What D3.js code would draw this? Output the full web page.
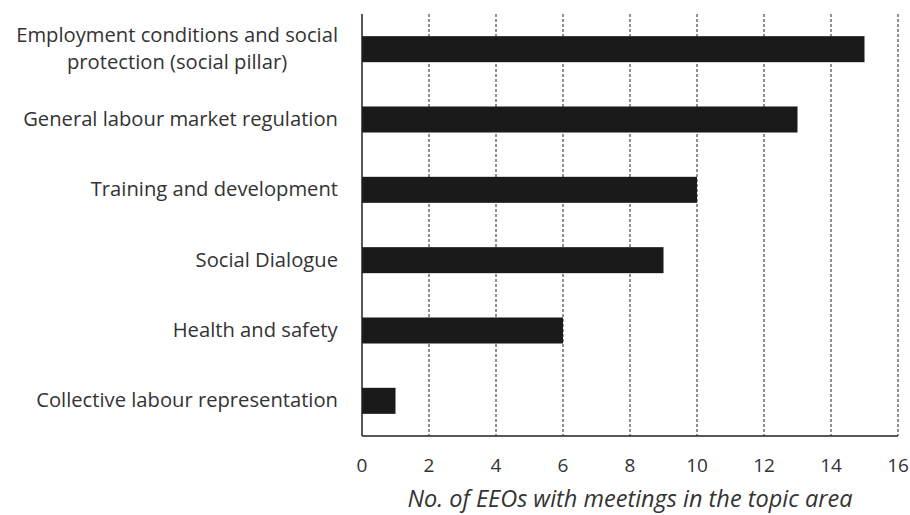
<!DOCTYPE html>
<html><head><meta charset="utf-8">
<script src="https://cdn.jsdelivr.net/npm/d3@7"></script>
<style>body{margin:0;background:#fff}svg{display:block}</style>
</head><body>
<svg id="c" width="910" height="515"></svg>
<script>
const categories = [
  ["Employment conditions and social", "protection (social pillar)"],
  ["General labour market regulation"],
  ["Training and development"],
  ["Social Dialogue"],
  ["Health and safety"],
  ["Collective labour representation"]
];
const values = [15, 13, 10, 9, 6, 1];
const xTicks = [0, 2, 4, 6, 8, 10, 12, 14, 16];
const xTitle = "No. of EEOs with meetings in the topic area";

(function(){
const svg = d3.select("#c");
const font = "'Open Sans', sans-serif";
const textCol = "#333";
const pL = 362, pR = 898, pT = 14, pB = 436;
const x = d3.scaleLinear().domain([0, 16]).range([pL, pR]);
const y = d3.scaleBand().domain(d3.range(categories.length)).range([pT, pB]).paddingInner(0.63).paddingOuter(0.315);

svg.append("g").selectAll("line").data(xTicks.filter(d => d > 0)).join("line")
  .attr("x1", d => x(d)).attr("x2", d => x(d)).attr("y1", pT).attr("y2", pB)
  .attr("stroke", "#222").attr("stroke-width", 1).attr("stroke-dasharray", "3,2");

svg.append("g").selectAll("rect").data(values).join("rect")
  .attr("x", x(0)).attr("y", (d, i) => y(i))
  .attr("width", d => x(d) - x(0)).attr("height", y.bandwidth())
  .attr("fill", "#1a1a1a");

svg.append("line").attr("x1", x(0)).attr("x2", x(0)).attr("y1", pT).attr("y2", pB)
  .attr("stroke", "#222").attr("stroke-width", 1.5);
svg.append("line").attr("x1", x(0)).attr("x2", x(16)).attr("y1", pB).attr("y2", pB)
  .attr("stroke", "#222").attr("stroke-width", 1.5);

svg.append("g").selectAll("text").data(xTicks).join("text")
  .attr("x", d => x(d)).attr("y", 472).attr("text-anchor", "middle")
  .attr("font-family", font).attr("font-size", 19).attr("fill", textCol)
  .text(d => d);

const labG = svg.append("g").attr("font-family", font).attr("font-size", 20.2).attr("fill", textCol);
categories.forEach((lines, i) => {
  const cy = y(i) + y.bandwidth() / 2;
  const t = labG.append("text").attr("text-anchor", "middle");
  const lh = 27;
  lines.forEach((ln, j) => {
    t.append("tspan").attr("x", 0).attr("y", cy + (j - (lines.length - 1) / 2) * lh + 6.5).text(ln);
  });
  const w = t.node().getBBox().width;
  t.selectAll("tspan").attr("x", 338 - w / 2);
});

svg.append("text").attr("x", 630).attr("y", 507).attr("text-anchor", "middle")
  .attr("font-family", font).attr("font-size", 23.5).attr("font-style", "italic").attr("fill", textCol)
  .text(xTitle);
})();
</script>
</body></html>
